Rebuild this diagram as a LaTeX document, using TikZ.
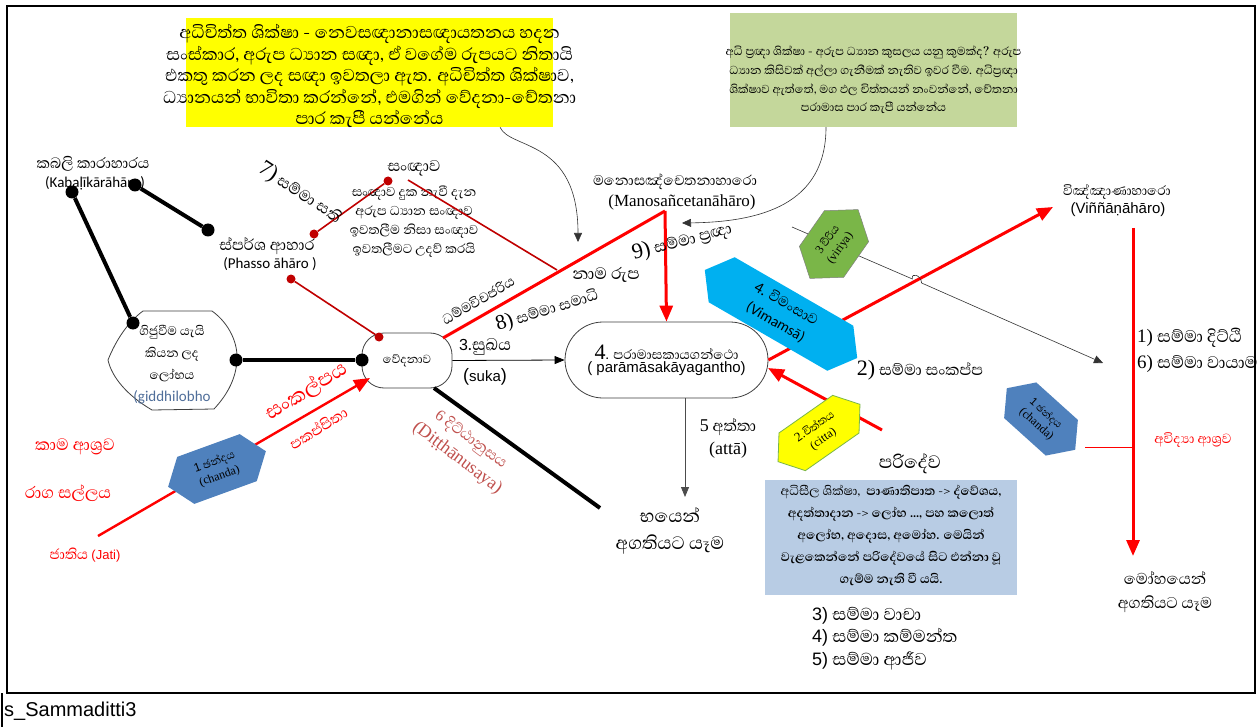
\documentclass[tikz,border=0pt]{standalone}
\usepackage{fontspec}
\usetikzlibrary{arrows.meta,calc}
\setmainfont{Abhaya Libre}[Script=Sinhala]
\newfontfamily\lsans{Liberation Sans}
\newfontfamily\lserif{Liberation Serif}
\newfontfamily\cali{Carlito}
\newcommand\fs[2]{\fontsize{#1}{#2}\selectfont}
\definecolor{ylw}{HTML}{FFFF00}
\definecolor{boxgreen}{HTML}{C4D79B}
\definecolor{skyb}{HTML}{00B0F0}
\definecolor{steel}{HTML}{4F81BD}
\definecolor{leaf}{HTML}{7AB648}
\definecolor{paleb}{HTML}{B8CCE4}
\definecolor{brick}{HTML}{C0504D}
\definecolor{dred}{HTML}{C00000}
\definecolor{lred}{HTML}{FF0000}
\definecolor{slate}{HTML}{4F6E9A}
% elongated hexagon: centre, angle, half length, half height, style
\newcommand\hexbox[5]{%
  \begin{scope}[shift={#1},rotate=#2]
    \path[#5] (-#3,0) -- ({-#3+#4*0.75},-#4) -- ({#3-#4*0.75},-#4) -- (#3,0)
      -- ({#3-#4*0.75},#4) -- ({-#3+#4*0.75},#4) -- cycle;
  \end{scope}}
\begin{document}
\begin{tikzpicture}[x=1pt,y=-1pt,
  blkdot/.style={circle,fill=black,inner sep=0,minimum size=13pt},
  reddot/.style={circle,fill=dred,inner sep=0,minimum size=9pt},
  heavy/.style={line width=4pt},
  redthin/.style={draw=dred,line width=1.6pt},
  redbold/.style={draw=lred,line width=3pt},
  redarrow/.style={redbold,-{Triangle[length=16pt,width=13pt]}},
  thinarrow/.style={line width=0.8pt,-{Triangle[length=10pt,width=8pt]}},
  lbl/.style={inner sep=0,align=center},
]
\useasboundingbox (0,0) rectangle (1260,727);
\fill[white] (0,0) rectangle (1260,727);

% frame and caption row
\draw[line width=2.5pt] (7,6) rectangle (1255,693);
\draw[line width=1.2pt] (2,693) -- (2,727);
\node[lbl,anchor=west,font=\lsans\fs{20}{24}] (cap) at (4,711) {s\_Sammaditti3};

% yellow box
\node[fill=ylw,minimum width=367pt,minimum height=109pt,inner sep=0] (yb) at (369.5,72.5) {};
\node[lbl,font=\fs{22}{21.5}] (ybt) at (369.5,76) {අධිචිත්ත ශික්ෂා - නෙවසඥානාසඥායතනය හදන\\
සංස්කාර, අරුප ධ්‍යාන සඥා, ඒ වගේම රුපයට නිතායි\\
එකතු කරන ලද සඥා ඉවතලා ඇත. අධිචිත්ත ශික්ෂාව,\\
ධ්‍යානයන් භාවිතා කරන්නේ, එමගින් වේදනා-චේතනා\\
පාර කැපී යන්නේය};

% green box
\node[fill=boxgreen,minimum width=287pt,minimum height=114pt,inner sep=0] (gb) at (873.5,70) {};
\node[lbl,font=\fs{14.8}{18.8}] (gbt) at (873.5,80) {අධි ප්‍රඥා ශික්ෂා - අරුප ධ්‍යාන කුසලය යනු කුමක්ද? අරුප\\
ධ්‍යාන කිසිවක් අල්ලා ගැනීමක් නැතිව ඉවර වීම. අධිප්‍රඥා\\
ශික්ෂාව ඇත්තේ, මග ඵල චිත්තයන් නංවන්නේ, චේතනා\\
පරාමාස පාර කැපී යන්නේය};

% main nodes
\node[draw=black!75,line width=0.8pt,rounded corners=22pt,minimum width=90pt,minimum height=55pt,font=\fs{15}{18}] (ved) at (407,360.5) {වේදනාව};
\node[draw=black!75,line width=0.8pt,rounded corners=38pt,minimum width=203pt,minimum height=76pt,align=center] (par) at (666.5,360)
  {{\lserif\fs{22}{22}4}{\fs{17}{20}. පරාමාසකායගන්ථො}\\[1pt]{\lsans\fs{15}{18}( parāmāsakāyagantho)}};

% giddhilobho shape
\draw[black!75,line width=0.8pt] (143,311) -- (212,311) .. controls (230,324) and (238,344) .. (237,360)
  .. controls (236,378) and (228,394) .. (214,409) -- (152,410) .. controls (128,396) and (112,378) .. (108,360)
  .. controls (116,340) and (128,322) .. (143,311) -- cycle;
\node[lbl,font=\fs{16}{22}] (gid) at (172,365) {ගිජුවීම යැයි\\ කියන ලද\\ ලෝභය\\ {\color{slate}\cali\fs{15}{22}(giddhilobho}};

% black dots and heavy lines
\node[blkdot] (k1) at (72,192) {};
\node[blkdot] (k2) at (135,185) {};
\node[blkdot] (p1) at (208,230) {};
\node[blkdot] (g1) at (133,323) {};
\node[blkdot] (g2) at (236,360) {};
\node[blkdot] (v1) at (362,360) {};
\draw[heavy] (k2) -- (p1);
\draw[heavy] (k1) -- (g1);
\draw[heavy] (g2) -- (v1);

% kabali / phasso labels
\node[lbl,font=\fs{19}{18}] (kab) at (93,164) {කබලි කාරාහාරය};
\node[lbl,font=\cali\fs{15}{18}] (kabr) at (95,183) {(Kabaḷīkārāhāro)};
\node[lbl,font=\fs{20}{18}] (pha) at (267,246) {ස්පර්ශ ආහාර};
\node[lbl,font=\cali\fs{15}{18}] (phar) at (270,264) {(Phasso āhāro )};

% red dots and thin red lines
\node[reddot] (r1) at (314,234) {};
\node[reddot] (r2) at (388,181) {};
\node[reddot] (r3) at (291,279) {};
\node[reddot] (r4) at (379,337) {};
\draw[redthin] (r1) -- (r2);
\draw[redthin] (r3) -- (r4);
\node[lbl,font=\fs{20}{18}] (san) at (414,168) {සංඥාව};
\node[lbl,font=\fs{16.5}{19}] (sant) at (414,222) {සංඥාව දුක නැවී දැන\\ අරුප ධ්‍යාන සංඥාව\\ ඉවතලීම නිසා සංඥාව\\ ඉවතලීමට උදව් කරයි};
\coordinate (sanfoot) at (408,180);
\coordinate (namemeet) at (557,270);
\draw[redthin] (sanfoot) -- (namemeet);
\node[lbl,font=\fs{20}{20},rotate=-33] (sati) at (300,193) {{\lserif\fs{22}{20}7)} සම්මා සති};

% manosancetana
\node[lbl,font=\fs{18}{18}] (mano) at (675,182) {මනොසඤ්චෙතනාහාරො};
\node[lbl,font=\lserif\fs{17}{18}] (manor) at (682,202) {(Manosañcetanāhāro)};
\coordinate (manofoot) at (665,211);
\coordinate (vedcorner) at (443,338);
\draw[redbold] (vedcorner) -- (manofoot);
\draw[redarrow] (manofoot) -- (par.north);
\node[lbl,font=\fs{17.5}{18},rotate=30] (dham) at (478,300) {ධම්මවිචජරිය};
\node[lbl,font=\fs{19}{20},rotate=17] (samadhi) at (547,310) {{\lserif\fs{21}{20}8)} සම්මා සමාධි};
\node[lbl,font=\fs{21}{20}] (nama) at (606,275) {නාම රුප};
\node[lbl,font=\fs{20}{20},rotate=15] (panna) at (682,241) {{\lserif\fs{22}{20}9)} සම්මා ප්‍රඥා};

% curved arrows from the two boxes
\coordinate (ytip) at (578,242);
\coordinate (gtip) at (682,223);
\draw[line width=0.6pt,black!80,-{Triangle[length=9pt,width=8pt]}] (yb.south -| 500,0) .. controls (510,150) and (578,138) .. (ytip);
\draw[line width=0.6pt,black!80,-{Triangle[length=9pt,width=8pt]}] (gb.south -| 826,0) .. controls (826,205) and (760,222) .. (gtip);

% vedana -> paramasa
\draw[thinarrow] (ved.east) -- (par.west);
\node[lbl,font=\fs{21}{18}] (suk) at (485,347) {{\lsans\fs{16}{18}3}.සුඛය};
\node[lbl,font=\lsans\fs{18}{18}] (sukr) at (485,377) {({\fs{15}{18}suka})};

% vinnana
\node[lbl,font=\fs{17}{18}] (vin) at (1117,192) {විඤ්ඤාණාහාරො};
\node[lbl,font=\lsans\fs{15}{18}] (vinr) at (1118,210) {(Viññāṇāhāro)};
\coordinate (vintip) at (1053,207);
\draw[redarrow] (par.east) -- (vintip);
\coordinate (vintop) at (1133,228);
\coordinate (mohtip) at (1133,556);
\draw[redarrow] (vintop) -- (mohtip);
\node[lbl,anchor=west,font=\fs{21.5}{20}] (sd) at (1137,338) {{\lserif\fs{19}{20}1)} සම්මා දිට්ඨි};
\node[lbl,anchor=west,font=\fs{21.5}{20}] (sv) at (1137,364) {{\lserif\fs{19}{20}6)} සම්මා වායාම};
\node[lbl,font=\fs{20}{24}] (moh) at (1165,592) {මෝහයෙන්\\ අගතියට යෑම};

% viriya hexagon and its arrow
\coordinate (virtail) at (792,227);
\coordinate (virhead) at (1103,363);
\draw[line width=0.6pt,black!80,-{Triangle[length=9pt,width=8pt]}] (virtail) -- (912.4,279)
  .. controls (911,272) and (921,275) .. (921.6,283) -- (virhead);
\hexbox{(834,244)}{55}{42}{27}{fill=leaf,draw=black!50,line width=0.5pt}
\node[lbl,rotate=55,font=\fs{14}{15}] (vir) at (834,244) {{\lserif\fs{12}{15}3} වීරිය\\{\lserif\fs{12}{15}(viriya)}};

% vimamsa hexagon
\hexbox{(781,314)}{-30}{88}{26}{fill=skyb}
\node[lbl,rotate=-30,font=\fs{18}{21}] (vim) at (781,313) {{\cali\fs{16}{21}4.} විමංසාව\\{\cali\fs{15}{21}(Vimamsā)}};
\node[lbl,font=\fs{20}{20}] (sank) at (920,370) {{\lserif\fs{22}{20}2)} සම්මා සංකප්ප};

% citta hexagon with red arrow
\coordinate (cittail) at (882,430);
\coordinate (citd) at (768,368);
\draw[redarrow] (cittail) -- (citd);
\hexbox{(819,433)}{35}{50}{23}{fill=ylw,draw=leaf,line width=0.8pt}
\node[lbl,rotate=35,font=\fs{14}{15}] (cit) at (819,433) {{\lserif\fs{13}{15}2.}චිත්තය\\{\lserif\fs{12}{15}(citta)}};

% atta arrow
\coordinate (bhaya) at (685,497);
\draw[thinarrow,black!70] (par.south -| 685,0) -- (bhaya);
\node[lbl,font=\fs{20}{23}] (att) at (728,438) {{\lserif\fs{18}{23}5} අත්තා\\{\lserif\fs{18}{23}(attā)}};
\node[lbl,font=\fs{23}{27}] (bh) at (670,531) {භයෙන්\\ අගතියට යෑම};

% ditthanusaya line
\coordinate (vedfoot) at (434,388);
\coordinate (ditend) at (600,508);
\draw[heavy] (vedfoot) -- (ditend);
\node[lbl,rotate=-37,text=brick,font=\fs{19}{23}] (dit) at (464,449) {{\lserif\fs{16}{23}6} දිට්ඨානුසය\\{\lserif\fs{18}{23}(Diṭṭhānusaya)}};

% sankappa red arrow and left hexagon
\coordinate (jati) at (98,536);
\coordinate (vedin) at (370,378);
\draw[redarrow,line width=2.4pt] (jati) -- (vedin);
\hexbox{(217,469)}{20}{52}{25}{fill=steel}
\node[lbl,rotate=20,font=\fs{14}{15}] (chl) at (217,469) {{\lsans\fs{12}{15}1} ඡන්දය\\{\lserif\fs{12}{15}(chanda)}};
\node[lbl,rotate=32,text=lred,font=\fs{26}{22}] (skp) at (306,391) {සංකල්පය};
\node[lbl,rotate=32,text=lred,font=\fs{19}{16}] (pkp) at (318,428) {පකප්පිතා};
\node[lbl,text=lred,font=\fs{21}{18}] (kama) at (75,447) {කාම ආශ්‍රව};
\node[lbl,text=lred,font=\fs{21}{18}] (raga) at (68,493) {රාග සල්ලය};
\node[lbl,text=lred,font=\fs{18}{18}] (jat) at (85,555) {ජාතිය {\lsans\fs{13}{18}(Jati)}};

% right hexagon (chanda) with thin red link
\hexbox{(1041,419)}{-42}{46}{24}{fill=steel}
\node[lbl,rotate=-42,font=\fs{13}{14}] (chr) at (1041,419) {{\lsans\fs{11}{14}1} ඡන්දය\\{\lserif\fs{12}{14}(chanda)}};
\coordinate (chrtip) at (1085,447);
\coordinate (chrjoin) at (1133,447);
\draw[draw=lred,line width=0.8pt] (chrtip) -- (chrjoin);
\node[lbl,text=lred,font=\fs{17}{16}] (avi) at (1193,440) {අවිද්‍යා ආශ්‍රව};

% sila box
\node[lbl,font=\fs{23}{20}] (pari) at (910,464) {පරිදේව};
\node[fill=paleb,minimum width=252pt,minimum height=115pt,inner sep=0] (sb) at (891,537.5) {};
\node[lbl,font=\fs{16}{22}] (sbt) at (891,535) {අධිසීල ශික්ෂා,\ \ \textbf{පාණාතිපාත -> ද්වේශය,}\\
\textbf{අදත්තාදාන -> ලෝභ ..., පහ කලොත්}\\
\textbf{අලෝභ, අදොස, අමෝහ. මෙයින්}\\
\textbf{වැළකෙන්නේ පරිදේවයේ සිට එන්නා වූ}\\
\textbf{ගැම්ම නැති වී යයි.}};
\node[lbl,anchor=north west,align=left,font=\fs{22}{22.5}] (sam) at (812,607) {{\lsans\fs{18}{22}3)} සම්මා වාචා\\ {\lsans\fs{18}{22}4)} සම්මා කම්මන්ත\\ {\lsans\fs{18}{22}5)} සම්මා ආජීව};
\end{tikzpicture}
\end{document}
